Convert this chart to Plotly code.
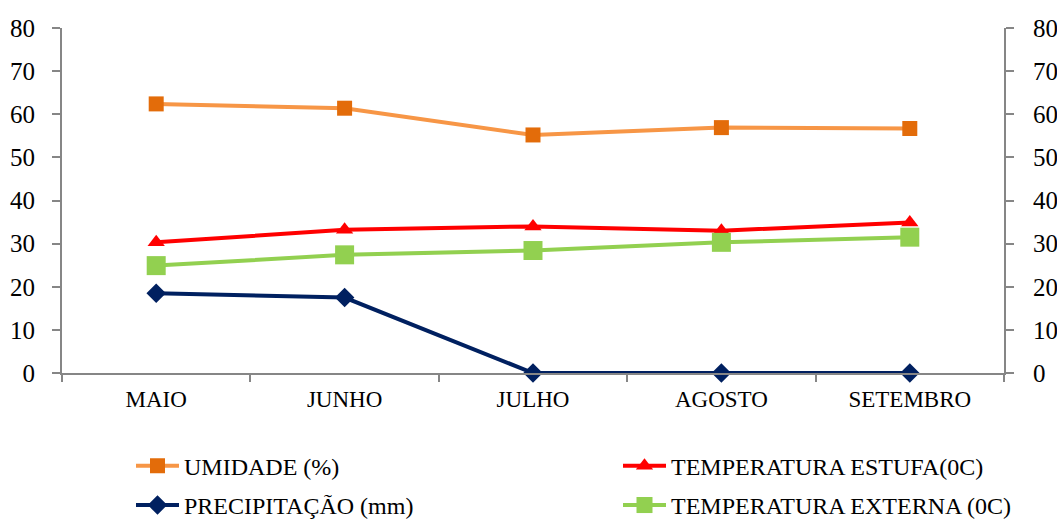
import plotly.graph_objects as go

# Monthly climate series
meses = ["MAIO", "JUNHO", "JULHO", "AGOSTO", "SETEMBRO"]
umidade = [62.4, 61.4, 55.2, 56.9, 56.7]
temp_estufa = [30.3, 33.2, 34.0, 33.0, 34.9]
precipitacao = [18.5, 17.5, 0.0, 0.0, 0.0]
temp_externa = [24.9, 27.4, 28.4, 30.3, 31.5]

eixo_y_ticks = [0, 10, 20, 30, 40, 50, 60, 70, 80]

FONT = "Liberation Serif"
AXIS_GRAY = "#868686"

fig = go.Figure()

# (name, values, line colour, marker, legend box)
series = [
    ("UMIDADE (%)", umidade, "#F79646",
     dict(symbol="square", size=15, color="#E36C0A"), "legend"),
    ("TEMPERATURA ESTUFA(0C)", temp_estufa, "#FF0000",
     dict(symbol="triangle-up", size=15, color="#FF0000"), "legend2"),
    ("PRECIPITAÇÃO (mm)", precipitacao, "#002060",
     dict(symbol="diamond", size=15, color="#002060"), "legend"),
    ("TEMPERATURA EXTERNA (0C)", temp_externa, "#92D050",
     dict(symbol="square", size=19, color="#92D050"), "legend2"),
]

for i, (nome, valores, cor, marker, leg) in enumerate(series):
    fig.add_trace(go.Scatter(
        x=meses, y=valores, name=nome, mode="lines+markers",
        line=dict(color=cor, width=4),
        marker=marker,
        cliponaxis=False,
        legend=leg, legendgroup=f"g{i}",
    ))

axis_y = dict(
    range=[0, 80], tickvals=eixo_y_ticks, showgrid=False, zeroline=False,
    showline=True, linecolor=AXIS_GRAY, linewidth=2,
    ticks="outside", ticklen=8, tickcolor=AXIS_GRAY, tickwidth=2,
    tickfont=dict(family=FONT, size=25, color="black"),
)

legend_common = dict(
    orientation="v", xref="container", yref="container",
    xanchor="left", yanchor="top", y=0.145,
    tracegroupgap=5, bgcolor="rgba(0,0,0,0)",
    font=dict(family=FONT, size=24, color="black"),
    itemwidth=43,
)

fig.update_layout(
    width=1057, height=519,
    margin=dict(l=62, r=53, t=28, b=146, autoexpand=False),
    plot_bgcolor="white", paper_bgcolor="white",
    font=dict(family=FONT, size=24, color="black"),
    xaxis=dict(
        type="category", range=[-0.5, 4.5],
        showgrid=False, zeroline=False,
        showline=True, linecolor=AXIS_GRAY, linewidth=2,
        ticks="outside", tickson="boundaries", ticklen=7,
        tickcolor=AXIS_GRAY, tickwidth=2,
        tickfont=dict(family=FONT, size=23, color="black"),
        ticklabelstandoff=4,
    ),
    yaxis=dict(**axis_y, ticklabelstandoff=12),
    yaxis2=dict(**axis_y, overlaying="y", side="right", matches="y",
                ticklabelstandoff=14),
    legend=dict(**legend_common, x=131 / 1057),
    legend2=dict(**legend_common, x=618 / 1057),
    showlegend=True,
)

# Invisible trace to bring up the right-hand axis
fig.add_trace(go.Scatter(x=meses, y=umidade, yaxis="y2", mode="none",
                         showlegend=False, hoverinfo="skip"))

fig.write_html("out.html")
